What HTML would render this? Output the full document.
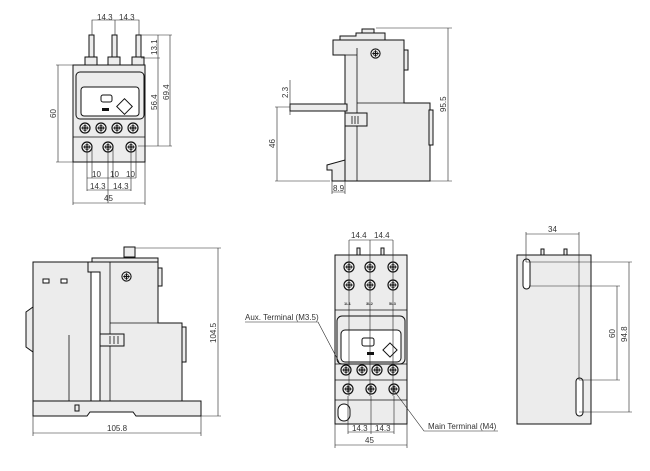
<!DOCTYPE html>
<html><head><meta charset="utf-8"><style>
html,body{margin:0;padding:0;background:#fff;}
svg{display:block;}
text{font-family:"Liberation Sans",sans-serif;font-size:8px;fill:#333;}
.o{fill:#ececec;stroke:#111;stroke-width:1;}
.w{fill:#fff;stroke:#111;stroke-width:1;}
.l{fill:none;stroke:#111;stroke-width:0.8;}
.d{fill:none;stroke:#222;stroke-width:0.6;}
</style></head><body>
<svg width="650" height="471" viewBox="0 0 650 471" xmlns="http://www.w3.org/2000/svg">
<defs>
<symbol id="s" viewBox="-6 -6 12 12" overflow="visible">
<circle r="5" fill="#f4f4f4" stroke="#111" stroke-width="1.2"/>
<path d="M-3.5 0H3.5M0 -3.5V3.5" stroke="#111" stroke-width="1.3"/>
<circle r="2.6" fill="none" stroke="#111" stroke-width="0.6"/>
</symbol>
</defs>

<!-- VIEW 1 top-left -->
<g>
<rect class="o" x="89" y="35" width="5" height="24"/>
<rect class="o" x="112" y="35" width="5" height="24"/>
<rect class="o" x="136" y="35" width="5" height="24"/>
<rect class="o" x="85" y="57" width="12" height="8"/>
<rect class="o" x="108" y="57" width="12" height="8"/>
<rect class="o" x="132" y="57" width="12" height="8"/>
<rect class="o" x="73" y="65" width="72" height="97"/>
<rect class="o" x="76" y="72" width="68" height="47" rx="4"/>
<rect class="w" x="81" y="87" width="58" height="29" rx="3"/>
<rect class="w" x="101" y="95" width="11" height="7" rx="2"/>
<rect x="102" y="108" width="7" height="3" fill="#111"/>
<rect x="119" y="101" width="11" height="11" fill="#fff" stroke="#111" transform="rotate(45 124.5 106.5)"/>
<use href="#s" x="79" y="122" width="12" height="12"/>
<use href="#s" x="95" y="122" width="12" height="12"/>
<use href="#s" x="111" y="122" width="12" height="12"/>
<use href="#s" x="127" y="122" width="12" height="12"/>
<line class="l" x1="73" y1="137" x2="145" y2="137"/>
<use href="#s" x="81" y="141" width="12" height="12"/>
<use href="#s" x="102" y="141" width="12" height="12"/>
<use href="#s" x="125" y="141" width="12" height="12"/>
<path class="d" d="M92 35V20H139V35M115 20V35"/>
<text x="97" y="20">14.3</text><text x="119" y="20">14.3</text>
<path class="d" d="M141 35H172M141 58H160M138 146H172M158 35V146M170 35V146"/>
<text transform="translate(157 55) rotate(-90)">13.1</text>
<text transform="translate(157 110) rotate(-90)">56.4</text>
<text transform="translate(169 100) rotate(-90)">69.4</text>
<path class="d" d="M73 65H56M73 162H56M58 65V162"/>
<text transform="translate(56 118) rotate(-90)">60</text>
<path class="d" d="M87 146V191M92 146V178M108 146V203M113 146V178M131 146V191M136 146V178M73 162V205M145 162V205M87 178H136M87 190H131M73 203H145"/>
<text x="92" y="177">10</text><text x="110" y="177">10</text><text x="126" y="177">10</text>
<text x="90" y="189">14.3</text><text x="113" y="189">14.3</text>
<text x="104" y="201">45</text>
</g>

<!-- VIEW 2 top-mid -->
<g>
<rect class="o" x="362" y="29" width="12" height="10"/>
<path class="o" d="M340 40V36H356V33H385V40H404V48H390V40Z"/>
<path class="o" d="M333 40H404V103H430V181H345V55H333Z"/>
<path class="l" d="M357 48V181M345 55H357M357 103H404"/>
<rect class="o" x="404" y="50" width="4" height="20"/>
<rect class="o" x="429" y="110" width="4" height="35"/>
<rect class="o" x="290" y="104" width="57" height="7"/>
<rect class="o" x="345" y="113" width="22" height="13"/>
<path class="l" d="M352 116V124M355 116V124M358 116V124"/>
<path class="o" d="M327 165L345 160V181H332V170H327Z"/>
<use href="#s" x="370" y="48" width="11" height="11"/>
<path class="d" d="M376 28H452M430 181H452M448 28V181"/>
<text transform="translate(446 112) rotate(-90)">95.5</text>
<path class="d" d="M290 80V115M275 107H290M275 181H330M277 107V181"/>
<text transform="translate(288 98) rotate(-90)">2.3</text>
<text transform="translate(275 148) rotate(-90)">46</text>
<path class="d" d="M332 181V194M345 181V194M332 192H345"/>
<text x="333" y="191">8.9</text>
</g>

<!-- VIEW 3 bottom-left -->
<g>
<rect class="o" x="124" y="247" width="11" height="10"/>
<path class="o" d="M92 262V258H158V262Z"/>
<path class="o" d="M26 312L33 307V352L26 347Z"/>
<rect class="o" x="33" y="262" width="58" height="139"/>
<path class="o" d="M88 262H158V323H182V401H100V272H88Z"/>
<path class="l" d="M110 262V401M110 323H158"/>
<rect class="o" x="158" y="268" width="4" height="18"/>
<rect class="o" x="182" y="327" width="4" height="35"/>
<rect class="o" x="100" y="334" width="24" height="12"/>
<path class="l" d="M110 336V344M114 336V344M118 336V344M69 335V401"/>
<rect class="w" x="43" y="279" width="6" height="4"/>
<rect class="w" x="61" y="279" width="6" height="4"/>
<use href="#s" x="121" y="271" width="11" height="11"/>
<path class="o" d="M33 401H201V416H136L133 412H90L87 416H33Z"/>
<rect class="o" x="75" y="405" width="4" height="6"/>
<path class="d" d="M135 248H221M201 416H221M218 248V416"/>
<text transform="translate(216 343) rotate(-90)">104.5</text>
<path class="d" d="M33 416V436M201 416V436M33 433H201"/>
<text x="107" y="431">105.8</text>
</g>

<!-- VIEW 4 bottom-mid -->
<g>
<rect class="o" x="357" y="248" width="3" height="8"/>
<rect class="o" x="381" y="248" width="3" height="8"/>
<rect class="o" x="335" y="255" width="72" height="169"/>
<line class="l" x1="335" y1="310" x2="407" y2="310"/>
<use href="#s" x="343" y="261" width="12" height="12"/>
<use href="#s" x="364" y="261" width="12" height="12"/>
<use href="#s" x="387" y="261" width="12" height="12"/>
<use href="#s" x="343" y="279" width="12" height="12"/>
<use href="#s" x="364" y="279" width="12" height="12"/>
<use href="#s" x="387" y="279" width="12" height="12"/>
<text x="344" y="305" style="font-size:4px;font-weight:bold">1L1</text>
<text x="366" y="305" style="font-size:4px;font-weight:bold">3L2</text>
<text x="389" y="305" style="font-size:4px;font-weight:bold">5L3</text>
<rect class="o" x="337" y="316" width="68" height="48" rx="5"/>
<rect class="w" x="341" y="330" width="60" height="32" rx="4"/>
<rect class="w" x="362" y="338" width="12" height="8" rx="2"/>
<rect x="367" y="352" width="7" height="3" fill="#111"/>
<rect x="385" y="345" width="10" height="10" fill="#fff" stroke="#111" transform="rotate(45 390 350)"/>
<line class="l" x1="335" y1="364" x2="407" y2="364"/>
<use href="#s" x="340" y="364" width="12" height="12"/>
<use href="#s" x="356" y="364" width="12" height="12"/>
<use href="#s" x="371" y="364" width="12" height="12"/>
<use href="#s" x="387" y="364" width="12" height="12"/>
<line class="l" x1="335" y1="380" x2="407" y2="380"/>
<use href="#s" x="342" y="383" width="12" height="12"/>
<use href="#s" x="365" y="383" width="12" height="12"/>
<use href="#s" x="388" y="383" width="12" height="12"/>
<line class="l" x1="335" y1="400" x2="407" y2="400"/>
<rect class="w" x="338" y="404" width="12" height="17" rx="6"/>
<path class="d" d="M349 240V396M370 240V396M393 240V396M349 240H393M348 396V434M371 396V434M394 396V434M348 432H394M335 424V448M407 424V448M335 445H407"/>
<text x="351" y="238">14.4</text><text x="374" y="238">14.4</text>
<text x="352" y="431">14.3</text><text x="375" y="431">14.3</text>
<text x="365" y="443">45</text>
<text x="245" y="320">Aux. Terminal (M3.5)</text>
<path class="d" d="M245 322H318L339 362"/>
<path class="d" d="M395 392L424 431H498"/>
<text x="428" y="429">Main Terminal (M4)</text>
</g>

<!-- VIEW 5 bottom-right -->
<g>
<rect class="o" x="541" y="249" width="3" height="7"/>
<rect class="o" x="564" y="249" width="3" height="7"/>
<rect class="o" x="517" y="255" width="74" height="169"/>
<rect class="w" x="523" y="259" width="7" height="30" rx="3.5"/>
<rect class="w" x="576" y="378" width="7" height="38" rx="3.5"/>
<path class="d" d="M526 232V262M579 232V380M526 234H579"/>
<text x="548" y="232">34</text>
<path class="d" d="M526 262H632M529 286H620M579 380H620M579 412H632M617 286V380M629 262V412"/>
<text transform="translate(615 338) rotate(-90)">60</text>
<text transform="translate(627 342) rotate(-90)">94.8</text>
</g>
</svg>
</body></html>
